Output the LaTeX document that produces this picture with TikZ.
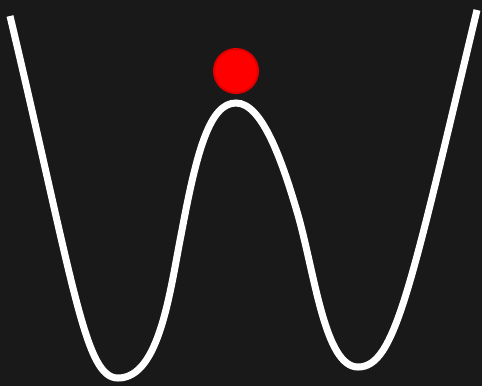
\documentclass[tikz,border=0pt]{standalone}
\usepackage{tikz}
\definecolor{cBackD}{HTML}{191919}
\definecolor{cBallF}{HTML}{FF0000}
\definecolor{cBallD}{HTML}{DD0000}
\tikzset{
  well/.style = {white, line width=4pt},
  ball/.style = {circle, fill=cBallF, draw=cBallD, line width=1.2pt,
                 minimum size=0.88cm, inner sep=0pt},
}

\begin{document}
\begin{tikzpicture}[x=0.02cm, y=-0.02cm]
  \fill[cBackD] (0,0) rectangle (482,386);
  \useasboundingbox (0,0) rectangle (482,386);
  % double well
  \draw[well] (10,16) .. controls (75,290) and (85,378) .. (118,378)
    .. controls (160,378) and (170,290) .. (182,230)
    .. controls (197,150) and (210,103) .. (236,103)
    .. controls (262,103) and (282,160) .. (298,215)
    .. controls (315,275) and (325,367) .. (358,367)
    .. controls (395,367) and (410,290) .. (477,10);
  \node[ball] (top) at (236,71) {};
\end{tikzpicture}
\end{document}
